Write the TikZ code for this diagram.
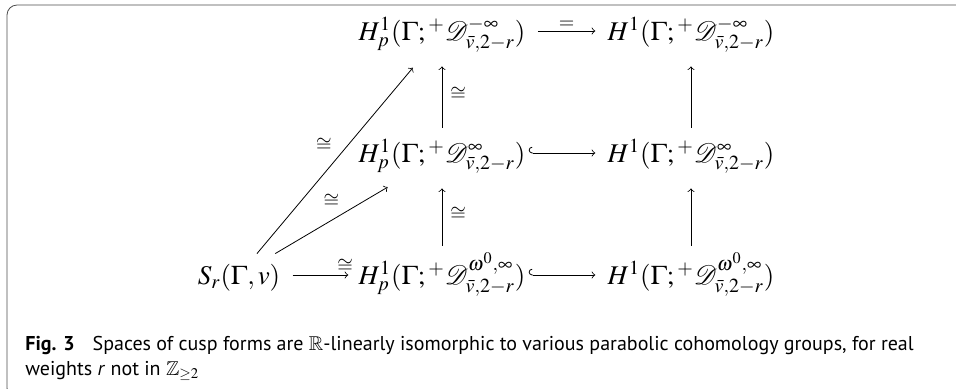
\documentclass[tikz,border=0pt]{standalone}
\usepackage{amssymb}
\usepackage{mathptmx}
\usepackage[no-math]{fontspec}
\usetikzlibrary{arrows}
\newfontfamily\capfont{PT Sans}
\tikzset{
  obj/.style={anchor=base, inner sep=1pt, text height=12pt, text depth=5pt,
    font=\fontsize{13.5}{16}\selectfont},
  harr/.style={->, shorten >=5pt, shorten <=5pt},
  varr/.style={->, shorten >=7pt, shorten <=4pt},
  iso/.style={font=\fontsize{13.5}{16}\selectfont, inner sep=1pt},
}
\begin{document}
\begin{tikzpicture}[x=0.5pt,y=-0.5pt]
  \useasboundingbox (0,0) rectangle (956,388);
  % frame
  \draw[black!70, rounded corners=5pt] (956,5) -- (7,5) -- (7,398) -- (40,398);
  % diagram
  \node[obj] (Pt) at (442,40) {$H^1_p(\Gamma;{}^+\mathcal{D}^{-\infty}_{\bar v,2-r})$};
  \node[obj] (Ht) at (691,40) {$H^1(\Gamma;{}^+\mathcal{D}^{-\infty}_{\bar v,2-r})$};
  \node[obj] (Pm) at (442,162) {$H^1_p(\Gamma;{}^+\mathcal{D}^{\infty}_{\bar v,2-r})$};
  \node[obj] (Hm) at (691,162) {$H^1(\Gamma;{}^+\mathcal{D}^{\infty}_{\bar v,2-r})$};
  \node[obj, text height=14pt] (S) at (239,284) {$S_r(\Gamma,v)$};
  \node[obj, text height=14pt] (Pb) at (442,284) {$H^1_p(\Gamma;{}^+\mathcal{D}^{\omega^0,\infty}_{\bar v,2-r})$};
  \node[obj, text height=14pt] (Hb) at (691,284) {$H^1(\Gamma;{}^+\mathcal{D}^{\omega^0,\infty}_{\bar v,2-r})$};
  % horizontal arrows
  \draw[harr] ([yshift=4.5pt]Pt.base east) -- node[above, iso]{$\scriptstyle=$} ([yshift=4.5pt]Ht.base west);
  \draw[harr, shorten <=0.5pt, right hook->] ([yshift=4.5pt]Pm.base east) -- ([yshift=4.5pt]Hm.base west);
  \draw[harr, shorten >=4pt] ([yshift=4.5pt]S.base east) -- node[pos=0.85, above, iso]{$\scriptstyle\cong$} ([yshift=4.5pt]Pb.base west);
  \draw[harr, shorten <=0.5pt, right hook->] ([yshift=4.5pt]Pb.base east) -- ([yshift=4.5pt]Hb.base west);
  % vertical arrows
  \draw[varr] (Pm) -- node[right=3pt, iso]{$\scriptstyle\cong$} (Pt);
  \draw[varr] (Pb) -- node[right=3pt, iso]{$\scriptstyle\cong$} (Pm);
  \draw[varr] (Hm) -- (Ht);
  \draw[varr] (Hb) -- (Hm);
  % diagonal arrows
  \draw[->, shorten >=10pt] (S) -- node[pos=0.54, left=7pt, iso]{$\scriptstyle\cong$} (Pt);
  \draw[->, shorten >=12.5pt] (S) -- node[pos=0.42, above=5pt, iso]{$\scriptstyle\cong$} (Pm);
  % caption
  \node[anchor=base west, align=left, inner sep=0pt, font=\capfont\fontsize{10}{12.5}\selectfont] (cap) at (25,375)
    {\textbf{Fig. 3}\hspace{0.9em}Spaces of cusp forms are $\mathbb{R}$-linearly isomorphic to various parabolic cohomology groups, for real\\
     weights \textit{r} not in $\mathbb{Z}_{\geq 2}$};
\end{tikzpicture}
\end{document}
